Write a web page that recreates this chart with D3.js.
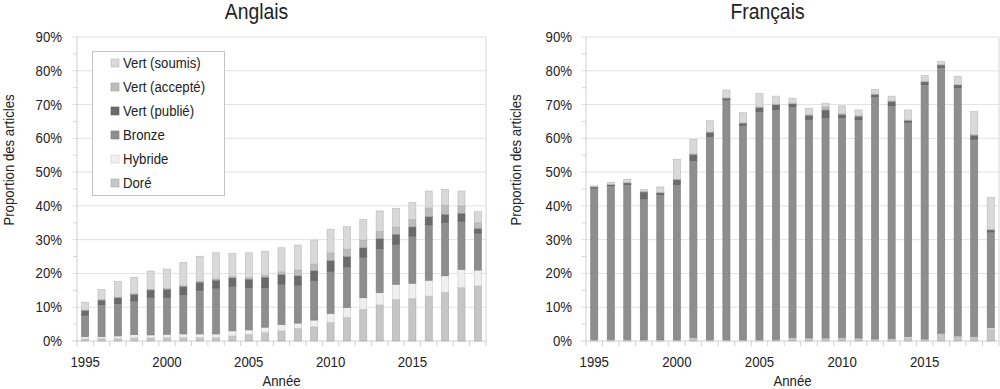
<!DOCTYPE html>
<html>
<head>
<meta charset="utf-8">
<script src="https://cdn.jsdelivr.net/npm/d3@7"></script>
<style>
	body { margin: 0; background: #fff; }
	svg text { font-family: "Liberation Sans", Arial, sans-serif; fill: #222; }
</style>
</head>
<body>
<svg id="chart" width="1000" height="389"></svg>
<script>
var years = d3.range(1995, 2020);

var seriesKeys = ['dore', 'hybride', 'bronze', 'publie', 'accepte', 'soumis'];
var seriesLabels = ['Doré', 'Hybride', 'Bronze', 'Vert (publié)', 'Vert (accepté)', 'Vert (soumis)'];
var seriesColors = ['#c6c6c6', '#efefef', '#8e8e8e', '#6b6b6b', '#bdbdbd', '#d9d9d9'];

var yTicks = [0, 10, 20, 30, 40, 50, 60, 70, 80, 90];
var xLabelYears = [1995, 2000, 2005, 2010, 2015];

// Anglais (% of articles)
var enDore    = [0.6, 0.7, 0.7, 0.9, 0.9, 1.0, 1.0, 1.0, 1.0, 1.5, 2.0, 2.5, 3.0, 3.7, 4.2, 5.5, 7.0, 9.4, 10.7, 12.3, 12.6, 13.3, 14.4, 15.8, 16.3];
var enHybride = [0.7, 0.6, 0.8, 1.0, 0.9, 1.0, 1.1, 1.1, 1.1, 1.5, 1.3, 1.6, 1.9, 1.6, 2.0, 2.7, 2.9, 3.4, 3.6, 4.5, 4.5, 4.7, 4.9, 5.4, 4.7];
var enBronze  = [6.4, 9.5, 9.6, 10.0, 11.2, 11.0, 11.7, 13.0, 13.6, 13.3, 12.6, 11.8, 12.0, 11.3, 11.8, 12.5, 12.1, 12.1, 13.1, 11.9, 14.0, 16.4, 15.9, 14.3, 11.0];
var enPublie  = [1.3, 1.3, 1.7, 1.9, 2.1, 2.3, 2.3, 2.3, 2.3, 2.4, 2.4, 3.0, 2.8, 2.7, 2.8, 3.1, 3.0, 2.7, 2.9, 2.9, 2.7, 2.4, 2.3, 2.3, 1.3];
var enAccepte = [0.2, 0.2, 0.2, 0.2, 0.2, 0.3, 0.3, 0.3, 0.4, 0.4, 0.5, 0.6, 0.8, 1.7, 2.0, 2.3, 2.2, 2.3, 2.2, 2.1, 2.2, 2.6, 2.7, 2.2, 1.7];
var enSoumis  = [2.3, 2.9, 4.6, 4.9, 5.4, 5.7, 6.9, 7.4, 7.7, 6.8, 7.3, 7.1, 7.1, 7.4, 7.1, 7.0, 6.7, 6.1, 6.0, 5.6, 5.0, 5.0, 4.7, 4.4, 3.3];

// Français
var frDore    = [0.4, 0.4, 0.4, 0.3, 0.3, 0.3, 0.9, 0.3, 0.3, 0.3, 0.3, 0.4, 1.0, 0.8, 0.8, 1.0, 0.8, 0.5, 0.7, 1.0, 0.5, 2.2, 1.4, 1.3, 3.5];
var frHybride = [0.1, 0.1, 0.1, 0.1, 0.1, 0.1, 0.2, 0.1, 0.1, 0.1, 0.1, 0.1, 0.1, 0.1, 0.1, 0.1, 0.1, 0.1, 0.1, 0.3, 0.1, 0.1, 0.1, 0.1, 0.4];
var frBronze  = [44.8, 45.5, 45.8, 41.7, 43.0, 46.0, 52.4, 60.2, 71.0, 63.5, 67.6, 68.0, 68.4, 64.8, 65.2, 65.1, 64.7, 71.8, 68.9, 63.5, 75.3, 78.7, 73.6, 58.4, 28.4];
var frPublie  = [0.3, 0.3, 0.5, 2.0, 0.5, 1.4, 1.7, 1.2, 0.5, 0.6, 1.1, 1.5, 0.7, 1.1, 2.3, 0.8, 0.9, 0.6, 1.2, 0.5, 0.8, 0.7, 0.7, 1.1, 0.6];
var frAccepte = [0.0, 0.0, 0.1, 0.2, 0.1, 0.1, 0.2, 0.1, 0.1, 0.1, 0.2, 0.1, 0.2, 0.2, 0.9, 0.3, 0.2, 0.1, 0.2, 0.1, 0.2, 0.1, 0.1, 0.2, 0.1];
var frSoumis  = [0.3, 0.7, 1.0, 0.5, 1.6, 5.9, 4.3, 3.3, 2.3, 3.0, 4.0, 2.4, 1.5, 1.9, 1.1, 2.3, 1.7, 1.4, 1.4, 3.0, 1.7, 0.9, 2.5, 6.8, 9.5];

var squeeze = 0.88;   // the original type is slightly condensed

function buildRows(cols) {
	return years.map(function(yr, i) {
		var row = { year: yr };
		seriesKeys.forEach(function(k, j) { row[k] = cols[j][i]; });
		return row;
	});
}

function label(g, x, y, txt, size, anchor, rotate) {
	return g.append('text')
		.attr('transform', 'translate(' + x + ',' + y + ')' + (rotate ? ' rotate(-90)' : '') + ' scale(' + squeeze + ',1)')
		.attr('text-anchor', anchor || 'middle')
		.style('font-size', size + 'px')
		.text(txt);
}

var svg = d3.select('#chart');

function drawPanel(opts) {
	var left = opts.left, right = opts.right, top = 37, bottom = 341;
	var g = svg.append('g');

	var x = d3.scaleBand()
		.domain(years)
		.range([left, right])
		.paddingInner(0.57)
		.paddingOuter(0.285);

	var y = d3.scaleLinear()
		.domain([0, 90])
		.range([bottom, top]);

	// grid
	g.selectAll('.grid')
		.data(yTicks.slice(1))
		.enter()
		.append('line')
		.attr('x1', left - 5)
		.attr('x2', right)
		.attr('y1', function(d) { return y(d); })
		.attr('y2', function(d) { return y(d); })
		.style('stroke', '#e2e2e2');

	g.selectAll('.minor')
		.data(d3.range(5, 90, 10))
		.enter()
		.append('line')
		.attr('x1', left - 4)
		.attr('x2', left)
		.attr('y1', function(d) { return y(d); })
		.attr('y2', function(d) { return y(d); })
		.style('stroke', '#d6d6d6');

	g.append('line')
		.attr('x1', right).attr('x2', right)
		.attr('y1', top).attr('y2', bottom)
		.style('stroke', '#d6d6d6');

	g.append('line')
		.attr('x1', left).attr('x2', left)
		.attr('y1', top).attr('y2', bottom)
		.style('stroke', '#cfcfcf');

	// x band boundaries
	var gap = (x.step() - x.bandwidth()) / 2;
	var bounds = years.map(function(yr) { return x(yr) - gap; }).concat([right]);
	g.selectAll('.xtick')
		.data(bounds)
		.enter()
		.append('line')
		.attr('x1', function(d) { return d; })
		.attr('x2', function(d) { return d; })
		.attr('y1', bottom)
		.attr('y2', bottom + 5)
		.style('stroke', '#d0d0d0');

	g.append('line')
		.attr('x1', left - 5).attr('x2', right)
		.attr('y1', bottom).attr('y2', bottom)
		.style('stroke', '#cfcfcf');

	// bars
	var stacked = d3.stack().keys(seriesKeys)(buildRows(opts.cols));

	var layer = g.selectAll('.layer')
		.data(stacked)
		.enter()
		.append('g')
		.attr('class', 'layer')
		.style('fill', function(d, i) { return seriesColors[i]; })
		.style('stroke', function(d, i) { return d3.color(seriesColors[i]).darker(0.45); })
		.style('stroke-width', 0.6);

	layer.selectAll('rect')
		.data(function(d) { return d; })
		.enter()
		.append('rect')
		.attr('x', function(d) { return x(d.data.year); })
		.attr('width', x.bandwidth())
		.attr('y', function(d) { return y(d[1]); })
		.attr('height', function(d) { return Math.max(0, y(d[0]) - y(d[1])); });

	// tick labels
	yTicks.forEach(function(t) {
		label(g, left - opts.labelGap, y(t) + 5, t + '%', 15, 'end');
	});

	xLabelYears.forEach(function(yr) {
		label(g, x(yr) + x.bandwidth() / 2, 367, yr, 15, 'middle');
	});

	label(g, (left + right) / 2 - 25, 19, opts.title, 22, 'middle');
	label(g, (left + right) / 2, 386, 'Année', 15, 'middle');
	label(g, opts.yTitleX, 160, 'Proportion des articles', 15, 'middle', true);

	return g;
}

var enPanel = drawPanel({
	left: 77, right: 486, labelGap: 15, yTitleX: 14, title: 'Anglais',
	cols: [enDore, enHybride, enBronze, enPublie, enAccepte, enSoumis]
});

drawPanel({
	left: 586, right: 999, labelGap: 14, yTitleX: 521, title: 'Français',
	cols: [frDore, frHybride, frBronze, frPublie, frAccepte, frSoumis]
});

// legend (top of stack first)
var legend = enPanel.append('g');

legend.append('rect')
	.attr('x', 92.5).attr('y', 51.5)
	.attr('width', 132).attr('height', 144)
	.style('fill', '#fff')
	.style('stroke', '#c4c4c4');

var legendItems = legend.selectAll('.legend-item')
	.data(seriesKeys.map(function(k, i) { return i; }).reverse())
	.enter()
	.append('g')
	.attr('class', 'legend-item')
	.attr('transform', function(d, i) { return 'translate(111,' + (63 + i * 24) + ')'; });

legendItems.append('rect')
	.attr('x', 0).attr('y', -4)
	.attr('width', 8).attr('height', 8)
	.style('fill', function(d) { return seriesColors[d]; })
	.style('stroke', function(d) { return d3.color(seriesColors[d]).darker(0.45); })
	.style('stroke-width', 0.6);

legendItems.each(function(d) {
	label(d3.select(this), 12, 5, seriesLabels[d], 15, 'start');
});
</script>
</body>
</html>
